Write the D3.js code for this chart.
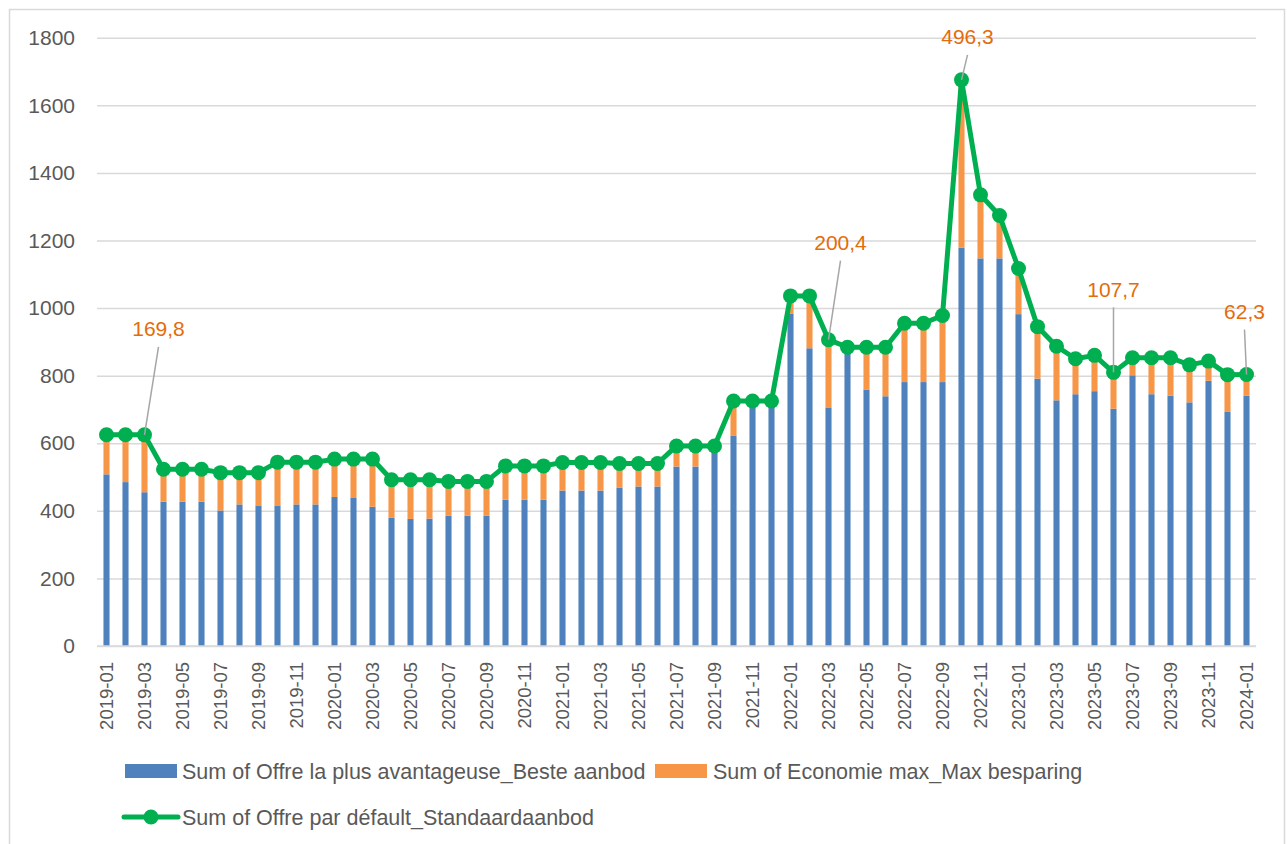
<!doctype html>
<html>
  <head>
    <meta charset="utf-8">
    <title>Offres</title>
    <script src="https://d3js.org/d3.v7.min.js"></script>
    <style type="text/css">
      body { margin: 0; background-color: #ffffff; }
      text { font-family: "Liberation Sans", Arial, sans-serif; fill: #595959; }
    </style>
  </head>
  <body>
    <script>
      // months 2019-01 .. 2024-01
      var months = ["2019-01","2019-02","2019-03","2019-04","2019-05","2019-06","2019-07","2019-08","2019-09","2019-10","2019-11","2019-12",
        "2020-01","2020-02","2020-03","2020-04","2020-05","2020-06","2020-07","2020-08","2020-09","2020-10","2020-11","2020-12",
        "2021-01","2021-02","2021-03","2021-04","2021-05","2021-06","2021-07","2021-08","2021-09","2021-10","2021-11","2021-12",
        "2022-01","2022-02","2022-03","2022-04","2022-05","2022-06","2022-07","2022-08","2022-09","2022-10","2022-11","2022-12",
        "2023-01","2023-02","2023-03","2023-04","2023-05","2023-06","2023-07","2023-08","2023-09","2023-10","2023-11","2023-12",
        "2024-01"];

      // Sum of Offre la plus avantageuse_Beste aanbod
      var best = [508,485,455,427,427,427,401,419,416,416,419,419,
        441,438,412,380,376,377,386,386,386,433,433,433,
        460,460,460,469,472,472,531,531,574,623,708,708,
        984,881,706,870,759,739,781,781,781,1179,1147,1147,
        982,791,727,745,754,702,801,745,741,721,785,694,
        741];

      // Sum of Economie max_Max besparing
      var saving = [117,140,169.8,96,96,96,112,94,97,128,125,125,
        112,115,141,112,116,115,101,101,101,100,100,100,
        83,83,83,71,68,68,61,61,18,102,17,17,
        52,155,200.4,14,125,145,174,174,197,496.3,188,127,
        135,154,160,105,106,107.7,52,108,112,111,58,109,
        62.3];

      // Sum of Offre par défault_Standaardaanbod
      var standard = [625,625,624.8,523,523,523,513,513,513,544,544,544,
        553,553,553,492,492,492,487,487,487,533,533,533,
        543,543,543,540,540,540,592,592,592,725,725,725,
        1036,1036,906.4,884,884,884,955,955,978,1675.3,1335,1274,
        1117,945,887,850,860,809.7,853,853,853,832,843,803,
        803.3];

      var yTicks = [0,200,400,600,800,1000,1200,1400,1600,1800];

      // data labels on the saving series
      var noteMonths = ["2019-03","2022-03","2022-10","2023-06","2024-01"];
      var noteLabels = ["169,8","200,4","496,3","107,7","62,3"];

      var seriesNames = ["Sum of Offre la plus avantageuse_Beste aanbod",
        "Sum of Economie max_Max besparing",
        "Sum of Offre par défault_Standaardaanbod"];

      var w = 1287, h = 844;
      var colBlue = "#4f81bd", colOrange = "#f79646", colGreen = "#00b050", colNote = "#e46c0a";

      var svg = d3.select("body").append("svg")
        .attr("width", w).attr("height", h);

      // chart border
      svg.append("rect")
        .attr("x", 9.5).attr("y", 9.5)
        .attr("width", 1275).attr("height", 860)
        .attr("fill", "#ffffff")
        .attr("stroke", "#d9d9d9").attr("stroke-width", 1.5);

      var x = d3.scaleBand()
        .domain(months)
        .range([97, 1256])
        .paddingInner(0.68)
        .paddingOuter(0.34);

      var y = d3.scaleLinear()
        .domain([0, 1800])
        .range([646, 37.7]);

      // gridlines + y labels
      var yAxis = svg.append("g")
        .attr("transform", "translate(97,0)")
        .call(d3.axisLeft(y).tickValues(yTicks).tickFormat(d3.format("d"))
          .tickSize(-(1256 - 97)).tickPadding(22));
      yAxis.select(".domain").remove();
      yAxis.selectAll(".tick line").attr("stroke", "#d9d9d9").attr("stroke-width", 1.5);
      yAxis.selectAll(".tick text")
        .style("font-size", "21px")
        .attr("fill", "#595959");

      // stacked bars
      var rows = months.map(function(m, i) { return { month: m, best: best[i], saving: saving[i] }; });
      var stacked = d3.stack().keys(["best", "saving"])(rows);
      var barColors = [colBlue, colOrange];

      svg.selectAll("g.layer")
        .data(stacked)
        .enter().append("g")
        .attr("class", "layer")
        .attr("fill", function(d, i) { return barColors[i]; })
        .selectAll("rect")
        .data(function(d) { return d; })
        .enter().append("rect")
        .attr("x", function(d) { return x(d.data.month); })
        .attr("width", x.bandwidth())
        .attr("y", function(d) { return y(d[1]); })
        .attr("height", function(d) { return y(d[0]) - y(d[1]); });

      // x axis
      var xAxis = svg.append("g")
        .attr("transform", "translate(0,646)")
        .call(d3.axisBottom(x)
          .tickValues(months.filter(function(m, i) { return i % 2 === 0; }))
          .tickSize(0));
      xAxis.select(".domain").attr("stroke", "#d9d9d9").attr("stroke-width", 1.5)
        .attr("d", "M97,0H1256");
      xAxis.selectAll(".tick text")
        .style("font-size", "18.5px")
        .attr("fill", "#595959")
        .attr("transform", "rotate(-90)")
        .attr("x", -16)
        .attr("y", 0)
        .attr("dy", "0.35em")
        .style("text-anchor", "end");

      // standard offer line
      var line = d3.line()
        .x(function(d, i) { return x(months[i]) + x.bandwidth() / 2; })
        .y(function(d) { return y(d); });

      svg.append("path")
        .datum(standard)
        .attr("fill", "none")
        .attr("stroke", colGreen)
        .attr("stroke-width", 5)
        .attr("stroke-linejoin", "round")
        .attr("d", line);

      svg.selectAll("circle.pt")
        .data(standard)
        .enter().append("circle")
        .attr("class", "pt")
        .attr("cx", function(d, i) { return x(months[i]) + x.bandwidth() / 2; })
        .attr("cy", function(d) { return y(d); })
        .attr("r", 7.5)
        .attr("fill", colGreen);

      // data label callouts
      var noteOffset = [[14, -106], [12, -97], [6, -43], [0, -83], [-2, -63]];
      noteMonths.forEach(function(m, k) {
        var i = months.indexOf(m);
        var px = x(m) + x.bandwidth() / 2, py = y(standard[i]);
        var tx = px + noteOffset[k][0], ty = py + noteOffset[k][1];
        svg.append("line")
          .attr("x1", tx).attr("y1", ty + 18)
          .attr("x2", px).attr("y2", py)
          .attr("stroke", "#a6a6a6").attr("stroke-width", 1.5);
        svg.append("text")
          .attr("x", tx).attr("y", ty)
          .attr("dy", "0.35em")
          .attr("text-anchor", "middle")
          .style("font-size", "21px")
          .style("fill", colNote)
          .text(noteLabels[k]);
      });

      // legend
      var lg = svg.append("g");
      var legSize = "21.5px";
      lg.append("rect").attr("x", 125).attr("y", 764).attr("width", 52).attr("height", 14).attr("fill", colBlue);
      lg.append("text").attr("x", 182).attr("y", 771).attr("dy", "0.35em").style("font-size", legSize).text(seriesNames[0]);
      lg.append("rect").attr("x", 655).attr("y", 764).attr("width", 52).attr("height", 14).attr("fill", colOrange);
      lg.append("text").attr("x", 713).attr("y", 771).attr("dy", "0.35em").style("font-size", legSize).text(seriesNames[1]);
      lg.append("line").attr("x1", 124).attr("x2", 178).attr("y1", 817).attr("y2", 817)
        .attr("stroke", colGreen).attr("stroke-width", 5).attr("stroke-linecap", "round");
      lg.append("circle").attr("cx", 151).attr("cy", 817).attr("r", 7.5).attr("fill", colGreen);
      lg.append("text").attr("x", 182).attr("y", 817).attr("dy", "0.35em").style("font-size", legSize).text(seriesNames[2]);
    </script>
  </body>
</html>
